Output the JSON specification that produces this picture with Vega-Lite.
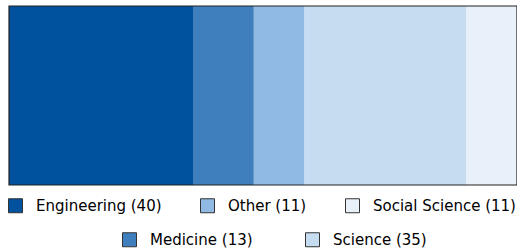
{
  "$schema": "https://vega.github.io/schema/vega-lite/v6.json",
  "width": 508,
  "height": 179,
  "padding": {"left": 8, "top": 5, "right": 1, "bottom": 0},
  "background": "white",
  "config": {
    "view": {"stroke": null},
    "font": "DejaVu Sans",
    "legend": {
      "orient": "none",
      "direction": "horizontal",
      "symbolType": "square",
      "symbolSize": 196,
      "symbolStrokeColor": "#333",
      "symbolStrokeWidth": 1,
      "labelFont": "DejaVu Sans",
      "labelFontSize": 15,
      "labelColor": "#000",
      "labelOffset": 13,
      "labelLimit": 300,
      "title": null,
      "padding": 0
    }
  },
  "data": {
    "values": [
      {"category": "Engineering", "count": 40, "label": "Engineering (40)", "row": 1},
      {"category": "Medicine", "count": 13, "label": "Medicine (13)", "row": 2},
      {"category": "Other", "count": 11, "label": "Other (11)", "row": 1},
      {"category": "Science", "count": 35, "label": "Science (35)", "row": 2},
      {"category": "Social Science", "count": 11, "label": "Social Science (11)", "row": 1}
    ]
  },
  "transform": [
    {"stack": "count", "groupby": [], "sort": [{"field": "category", "order": "ascending"}], "as": ["x0", "x1"]}
  ],
  "layer": [
    {
      "transform": [{"filter": "datum.row == 1"}],
      "mark": {"type": "bar", "strokeWidth": 0},
      "encoding": {
        "x": {"field": "x0", "type": "quantitative", "scale": {"domain": [0, 110], "nice": false, "zero": false}, "axis": null},
        "x2": {"field": "x1"},
        "y": {"value": 0},
        "y2": {"value": "height"},
        "color": {
          "field": "label",
          "type": "nominal",
          "scale": {"domain": ["Engineering (40)", "Other (11)", "Social Science (11)"], "range": ["#00519e", "#90bae4", "#e8f0fa"]},
          "legend": {"orient": "none", "legendX": -1, "legendY": 192, "columnPadding": 36}
        }
      }
    },
    {
      "transform": [{"filter": "datum.row == 2"}],
      "mark": {"type": "bar", "strokeWidth": 0},
      "encoding": {
        "x": {"field": "x0", "type": "quantitative"},
        "x2": {"field": "x1"},
        "y": {"value": 0},
        "y2": {"value": "height"},
        "color": {
          "field": "label",
          "type": "nominal",
          "scale": {"domain": ["Medicine (13)", "Science (35)"], "range": ["#3f7fbd", "#c6dcf1"]},
          "legend": {"orient": "none", "legendX": 113, "legendY": 226, "columnPadding": 50}
        }
      }
    },
    {
      "transform": [{"aggregate": [{"op": "min", "field": "x0", "as": "lo"}, {"op": "max", "field": "x1", "as": "hi"}]}],
      "mark": {"type": "bar", "fill": "transparent", "stroke": "#222", "strokeWidth": 1.2},
      "encoding": {
        "x": {"field": "lo", "type": "quantitative"},
        "x2": {"field": "hi"},
        "y": {"value": 0},
        "y2": {"value": "height"}
      }
    }
  ],
  "resolve": {"scale": {"color": "independent"}, "legend": {"color": "independent"}}
}
